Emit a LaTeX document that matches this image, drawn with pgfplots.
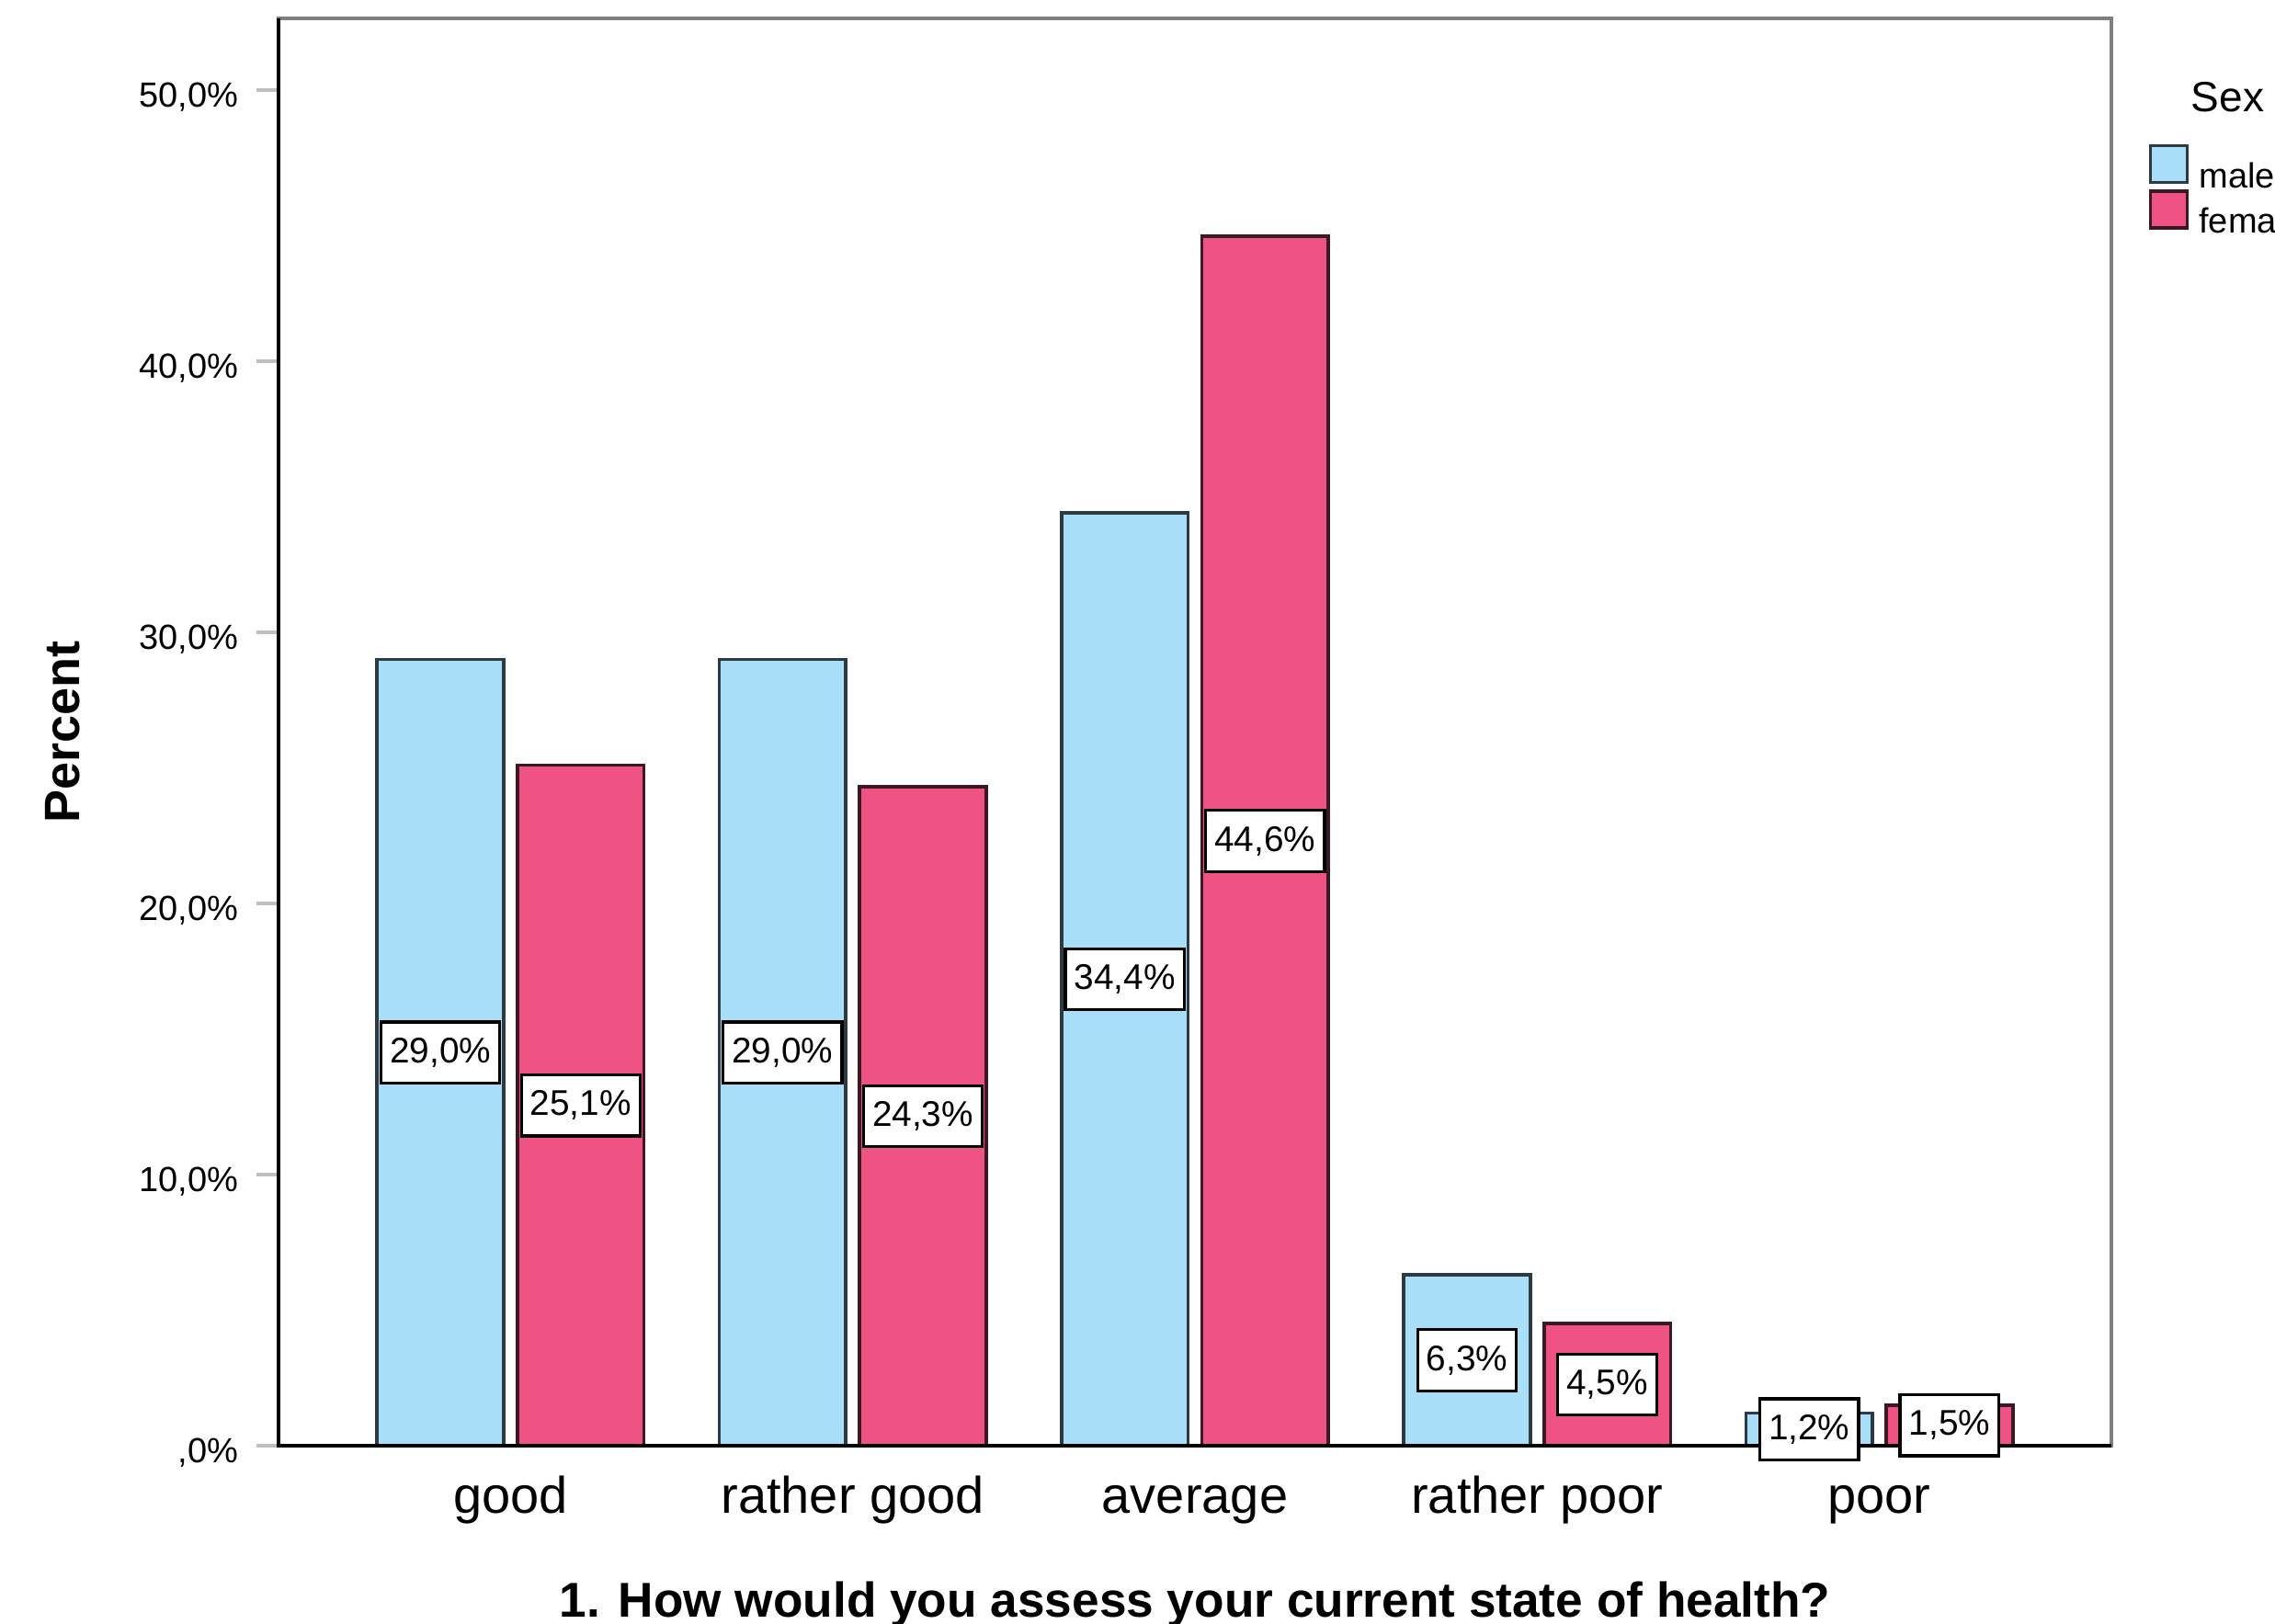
\documentclass[border=0pt]{standalone}
\usepackage{fontspec}
\setmainfont{Liberation Sans}
\usepackage{pgfplots}
\pgfplotsset{compat=1.18}
\usepackage{pgfplotstable}

\definecolor{maleblue}{RGB}{169,222,249}
\definecolor{femalepink}{RGB}{238,83,132}
\definecolor{maleedge}{RGB}{45,58,66}
\definecolor{femaleedge}{RGB}{58,24,36}
\definecolor{framegray}{RGB}{128,128,128}
\definecolor{tickgray}{RGB}{190,190,190}

% Percent of respondents per answer, by sex
\pgfplotstableread{
cat male female
0   29.0 25.1
1   29.0 24.3
2   34.4 44.6
3   6.3  4.5
4   1.2  1.5
}\healthdata

\pgfplotsset{
  sqlegend/.style={legend image code/.code={\draw[##1, line width=0.9pt] (0pt,-1.25pt) rectangle (10pt,8.75pt);}},
  barlabel/.style={
    only marks, mark=none, forget plot,
    point meta=explicit,
    nodes near coords={\pgfmathprintnumber[fixed, fixed zerofill, precision=1, use comma, assume math mode=true]{\pgfplotspointmeta}\%},
    every node near coord/.append style={anchor=center, fill=white, draw=black, line width=0.8pt,
      inner xsep=2.4pt, inner ysep=4.3pt, font=\fontsize{9.7}{11}\selectfont, text=black},
  },
}

\begin{document}
\begin{tikzpicture}
\useasboundingbox (-75.75pt,-48.5pt) rectangle (543pt,393.25pt);
\clip (-75.75pt,-48.5pt) rectangle (543pt,393.25pt);
\begin{axis}[
  at={(0,0)}, anchor=south west,
  scale only axis, width=498.5pt, height=388.25pt,
  xmin=-0.678, xmax=4.678, ymin=0, ymax=52.64,
  clip=false,
  axis line style={draw=framegray, line width=1pt},
  xtick={0,1,2,3,4},
  xticklabels={good, rather good, average, rather poor, poor},
  xtick style={draw=none},
  ytick={0,10,20,30,40,50},
  yticklabels={{,0\%},{10,0\%},{20,0\%},{30,0\%},{40,0\%},{50,0\%}},
  ytick pos=left,
  tick align=outside,
  major tick length=6pt,
  ytick style={draw=tickgray, line width=1pt},
  xticklabel style={font=\fontsize{14}{16}\selectfont, anchor=base, inner sep=0pt, yshift=-12.3pt},
  yticklabel style={font=\fontsize{9.5}{11}\selectfont, anchor=base east, inner sep=0pt, xshift=-4.75pt, yshift=-4.7pt},
  xlabel={1. How would you assess your current state of health?},
  ylabel={Percent},
  every axis x label/.style={at={(rel axis cs:0.5,0)}, anchor=north, inner sep=0pt, yshift=-36.75pt,
    font=\bfseries\fontsize{13.3}{15}\selectfont},
  every axis y label/.style={at={(rel axis cs:0,0.5)}, anchor=center, inner sep=0pt, rotate=90, yshift=58.75pt,
    font=\bfseries\fontsize{13.5}{15}\selectfont},
  legend style={at={(1,1)}, anchor=north west, xshift=10pt, yshift=-34pt,
    draw=none, fill=none, inner sep=0pt, row sep=-1.1pt, column sep=2.75pt,
    font=\fontsize{9.5}{11}\selectfont, nodes={inner sep=0pt}},
  legend cell align=left,
]
\addplot[ybar, bar width=0.37, bar shift=-0.205, fill=maleblue, draw=maleedge, line width=0.9pt, sqlegend]
  table[x=cat, y=male] {\healthdata};
\addlegendentry{male}
\addplot[ybar, bar width=0.37, bar shift=0.205, fill=femalepink, draw=femaleedge, line width=0.9pt, sqlegend]
  table[x=cat, y=female] {\healthdata};
\addlegendentry{female}

% value boxes sit halfway up each bar
\addplot[barlabel] table[x expr=\thisrow{cat}-0.205, y expr=\thisrow{male}/2, meta=male] {\healthdata};
\addplot[barlabel] table[x expr=\thisrow{cat}+0.205, y expr=\thisrow{female}/2, meta=female] {\healthdata};

% darker left and bottom axis lines
\draw[black, line width=1pt] (rel axis cs:0,1) -- (rel axis cs:0,0) -- (rel axis cs:1,0);

\node[anchor=base west, inner sep=0pt, xshift=21.5pt, yshift=-25.5pt, font=\fontsize{11.5}{13}\selectfont]
  at (rel axis cs:1,1) {Sex};
\end{axis}
\end{tikzpicture}
\end{document}
